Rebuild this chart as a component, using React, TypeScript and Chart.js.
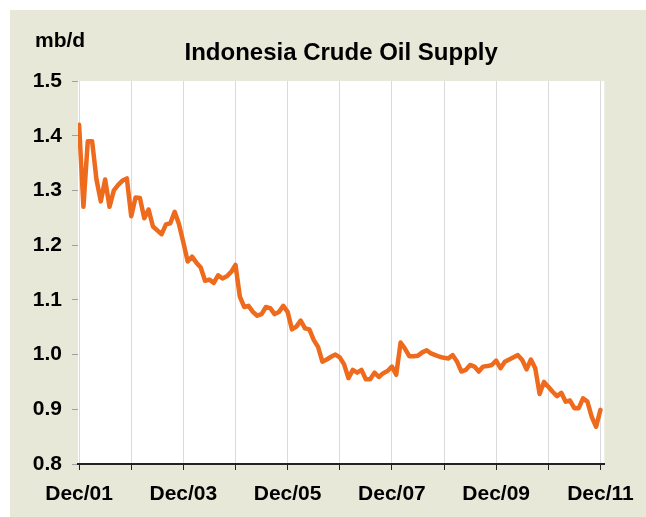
import React, { useEffect, useRef } from 'react';
import { Chart, registerables } from 'chart.js';

Chart.register(...registerables);

// Monthly categories, Dec 2001 .. Dec 2011
const months: string[] = [];
for (let y = 2001; y <= 2011; y++) {
  for (let m = 1; m <= 12; m++) {
    if (y === 2001 && m < 12) continue;
    months.push(`${y}-${String(m).padStart(2, '0')}`);
  }
}

// Indonesia crude oil supply, mb/d
const supply: number[] = [
  1.42, 1.27, 1.39, 1.39, 1.32, 1.28, 1.32, 1.27, 1.30, 1.31, 1.318, 1.322,
  1.253, 1.287, 1.286, 1.249, 1.265, 1.234, 1.227, 1.220, 1.238, 1.240, 1.261, 1.238,
  1.205, 1.170, 1.179, 1.168, 1.159, 1.135, 1.137, 1.131, 1.145, 1.139, 1.143, 1.151,
  1.164, 1.106, 1.087, 1.089, 1.078, 1.071, 1.074, 1.087, 1.085, 1.074, 1.078, 1.089,
  1.078, 1.046, 1.051, 1.062, 1.048, 1.046, 1.027, 1.014, 0.987, 0.991, 0.996, 1.000,
  0.995, 0.982, 0.957, 0.972, 0.967, 0.972, 0.955, 0.955, 0.967, 0.959, 0.966, 0.970,
  0.978, 0.963, 1.022, 1.011, 0.997, 0.997, 0.998, 1.004, 1.008, 1.002, 0.999, 0.996,
  0.994, 0.993, 0.999, 0.987, 0.969, 0.972, 0.981, 0.978, 0.969, 0.978, 0.979, 0.981,
  0.989, 0.975, 0.987, 0.991, 0.995, 0.999, 0.990, 0.973, 0.991, 0.975, 0.928, 0.950,
  0.941, 0.932, 0.924, 0.930, 0.914, 0.916, 0.902, 0.902, 0.920, 0.914, 0.886, 0.868,
  0.899,
];

const yTicks: number[] = [0.8, 0.9, 1.0, 1.1, 1.2, 1.3, 1.4, 1.5];
const xTickMonths: string[] = [
  '2001-12', '2002-12', '2003-12', '2004-12', '2005-12', '2006-12',
  '2007-12', '2008-12', '2009-12', '2010-12', '2011-12',
];
const xTickLabels: string[] = [
  'Dec/01', '', 'Dec/03', '', 'Dec/05', '', 'Dec/07', '', 'Dec/09', '', 'Dec/11',
];

const titleText = 'Indonesia Crude Oil Supply';
const unitText = 'mb/d';

const FONT = "'Liberation Sans', Arial, Helvetica, sans-serif";

export default function App() {
  const ref = useRef<HTMLCanvasElement>(null);

  useEffect(() => {
    if (!ref.current) return;
    const tickIdx = xTickMonths.map((m) => months.indexOf(m));

    const textPlugin = {
      id: 'texts',
      beforeDraw(chart: any) {
        const { ctx, chartArea } = chart;
        ctx.save();
        ctx.fillStyle = '#ffffff';
        ctx.fillRect(chartArea.left, chartArea.top, chartArea.right - chartArea.left, chartArea.bottom - chartArea.top);
        ctx.restore();
      },
      afterDraw(chart: any) {
        const { ctx, chartArea } = chart;
        ctx.save();
        ctx.fillStyle = '#000000';
        ctx.textBaseline = 'alphabetic';
        ctx.font = `bold 24px ${FONT}`;
        ctx.textAlign = 'center';
        ctx.fillText(titleText, (chartArea.left + chartArea.right) / 2, 50);
        ctx.font = `bold 21px ${FONT}`;
        ctx.textAlign = 'left';
        ctx.fillText(unitText, 25, 37);
        ctx.restore();
      },
    };

    const chart = new Chart(ref.current, {
      type: 'line',
      data: {
        datasets: [
          {
            data: supply.map((v, i) => ({ x: i, y: v })),
            borderColor: '#EE6A1C',
            borderWidth: 4.5,
            pointRadius: 0,
            tension: 0,
            borderJoinStyle: 'round',
            borderCapStyle: 'round',
          },
        ],
      },
      options: {
        responsive: false,
        animation: false,
        layout: { padding: { top: 71, right: 40, left: 0, bottom: 0 } },
        plugins: { legend: { display: false }, tooltip: { enabled: false }, title: { display: false } },
        scales: {
          x: {
            type: 'linear',
            min: -0.25,
            max: 120.9,
            afterBuildTicks: (s: any) => {
              s.ticks = tickIdx.map((v) => ({ value: v }));
            },
            afterFit: (s: any) => {
              s.height = 53;
            },
            ticks: {
              autoSkip: false,
              maxRotation: 0,
              padding: 12,
              color: '#000000',
              font: { family: FONT, size: 21, weight: 'bold' },
              callback: (v: any) => {
                const k = tickIdx.indexOf(Number(v));
                return k >= 0 ? xTickLabels[k] : '';
              },
            },
            grid: { color: '#dadada', lineWidth: 1, tickColor: '#222222', tickLength: 6, drawOnChartArea: true },
            border: { color: '#222222', width: 2 },
          },
          y: {
            min: 0.8,
            max: 1.5,
            afterBuildTicks: (s: any) => {
              s.ticks = yTicks.map((v) => ({ value: v }));
            },
            afterFit: (s: any) => {
              s.width = 68;
            },
            ticks: {
              padding: 10,
              color: '#000000',
              font: { family: FONT, size: 21, weight: 'bold' },
              callback: (v: any) => Number(v).toFixed(1),
            },
            grid: { drawOnChartArea: false, color: '#a0a0a0', tickLength: 6 },
            border: { display: false },
          },
        },
      },
      plugins: [textPlugin],
    } as any);

    return () => chart.destroy();
  }, []);

  return (
    <div
      style={{
        position: 'absolute',
        left: 10,
        top: 10,
        width: 636,
        height: 507,
        background: '#E8E8D8',
      }}
    >
      <canvas ref={ref} width={636} height={507} style={{ display: 'block' }} />
    </div>
  );
}
